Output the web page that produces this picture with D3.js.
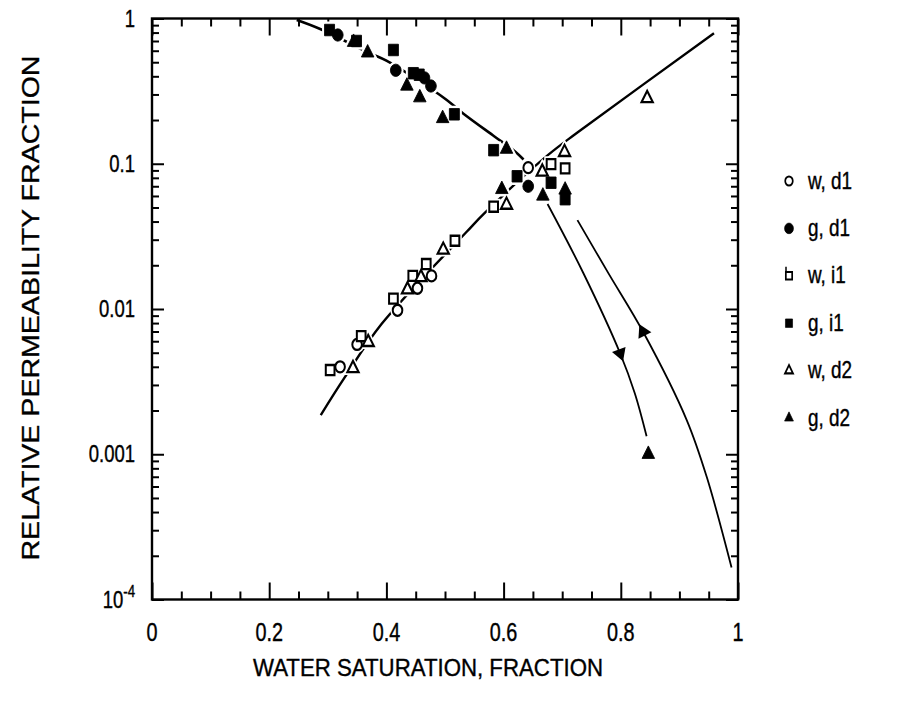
<!DOCTYPE html>
<html>
<head>
<meta charset="utf-8">
<script src="https://cdn.jsdelivr.net/npm/d3@7"></script>
<style>
  body { margin: 0; background: #fff; }
  text { font-family: "Liberation Sans", Arial, Helvetica, sans-serif; fill: #000; stroke: #000; stroke-width: 0.35px; }
</style>
</head>
<body>
<script>
// ---- data: [water saturation, relative permeability]
var wD1 = [[0.321,0.0040],[0.350,0.0057],[0.419,0.0098],[0.453,0.0139],[0.477,0.0169],[0.642,0.094]];
var gD1 = [[0.317,0.77],[0.416,0.44],[0.465,0.39],[0.476,0.343],[0.642,0.070]];
var wI1 = [[0.304,0.0038],[0.357,0.0065],[0.412,0.0118],[0.445,0.0169],[0.468,0.0204],[0.517,0.0295],[0.583,0.0506],[0.681,0.0995],[0.705,0.093]];
var gI1 = [[0.303,0.833],[0.349,0.70],[0.412,0.607],[0.446,0.42],[0.456,0.41],[0.516,0.219],[0.583,0.124],[0.623,0.082],[0.681,0.074],[0.705,0.057]];
var wD2 = [[0.343,0.0039],[0.369,0.0059],[0.436,0.0136],[0.459,0.0165],[0.497,0.0255],[0.605,0.052],[0.666,0.088],[0.704,0.12],[0.845,0.282]];
var gD2 = [[0.344,0.686],[0.368,0.58],[0.435,0.343],[0.457,0.285],[0.496,0.205],[0.597,0.0666],[0.605,0.126],[0.667,0.060],[0.705,0.066],[0.847,0.001]];

// fitted curves
var wCurve = [[0.288,0.00186],[0.328,0.00334],[0.392,0.0079],[0.537,0.034],[0.567,0.0455],[0.676,0.115],[0.726,0.164],[0.959,0.791]];
var gCurve = [[0.247,0.976],[0.284,0.856],[0.372,0.576],[0.400,0.512],[0.479,0.322],[0.503,0.275],[0.531,0.222],[0.585,0.1535],[0.620,0.121],[0.634,0.107]];
var gDrainLow = [[0.675,0.0528],[0.736,0.0177],[0.799,0.00494],[0.824,0.00262],[0.844,0.00133]];
var gImbLow = [[0.726,0.0409],[0.779,0.0176],[0.838,0.00697],[0.9125,0.00172],[0.9466,0.000699],[0.989,0.000166]];
// arrowheads on the two lower gas curves (point, direction along curve)
var arrows = [[0.799,0.00494,"down"],[0.838,0.00697,"up"]];

var xTicks = [0,0.2,0.4,0.6,0.8,1];
var xTickLabels = ["0","0.2","0.4","0.6","0.8","1"];
var yTicks = [1,0.1,0.01,0.001,0.0001];
var yTickLabels = ["1","0.1","0.01","0.001","10-4"];
var legendLabels = ["w, d1","g, d1","w, i1","g, i1","w, d2","g, d2"];

var svg = d3.select("body").append("svg")
  .attr("width", 912)
  .attr("height", 704);

var x = d3.scaleLinear().domain([0, 1]).range([152, 738]);
var y = d3.scaleLog().domain([1e-4, 1]).range([599.5, 18.5]);

var xMinor = d3.range(0, 1.001, 0.05).filter(function (v) { return Math.abs(v * 5 - Math.round(v * 5)) > 1e-6; });
var yMinor = y.ticks().filter(function (v) { return yTicks.indexOf(v) < 0; });

// ---- ticks on all four sides, pointing in
function ticks(axisFn, vals, len, tr) {
  var g = svg.append("g").attr("transform", tr)
    .call(axisFn.tickValues(vals).tickSize(-len).tickSizeOuter(0).tickFormat(""));
  g.select(".domain").remove();
  g.selectAll("line").attr("stroke", "#000").attr("stroke-width", 2);
}
ticks(d3.axisBottom(x), xTicks, 17, "translate(0,599.5)");
ticks(d3.axisBottom(x), xMinor, 8, "translate(0,599.5)");
ticks(d3.axisTop(x), xTicks, 17, "translate(0,18.5)");
ticks(d3.axisTop(x), xMinor, 8, "translate(0,18.5)");
ticks(d3.axisLeft(y), yTicks, 12, "translate(152,0)");
ticks(d3.axisLeft(y), yMinor, 7, "translate(152,0)");
ticks(d3.axisRight(y), yTicks, 12, "translate(738,0)");
ticks(d3.axisRight(y), yMinor, 7, "translate(738,0)");

svg.append("rect")
  .attr("x", 152).attr("y", 18.5)
  .attr("width", 738 - 152).attr("height", 599.5 - 18.5)
  .attr("fill", "none").attr("stroke", "#000").attr("stroke-width", 2.4);

// ---- tick labels
svg.selectAll(".xlab").data(xTicks).enter().append("text")
  .attr("transform", function (d) { return "translate(" + x(d) + ",641) scale(0.9,1.15)"; })
  .attr("text-anchor", "middle")
  .style("font-size", "22px")
  .text(function (d, i) { return xTickLabels[i]; });

svg.selectAll(".ylab").data(yTicks).enter().append("text")
  .attr("transform", function (d) { return "translate(135," + (y(d) + 8) + ") scale(0.88,1.15)"; })
  .attr("text-anchor", "end")
  .style("font-size", "21px")
  .each(function (d, i) {
    var t = d3.select(this);
    if (yTickLabels[i] == "10-4") {
      t.append("tspan").text("10");
      t.append("tspan").attr("dy", -9).style("font-size", "15px").text("-4");
    } else {
      t.text(yTickLabels[i]);
    }
  });

// ---- axis titles
svg.append("text")
  .attr("transform", "translate(428,676) scale(1,1.08)")
  .attr("text-anchor", "middle")
  .attr("textLength", 350).attr("lengthAdjust", "spacingAndGlyphs")
  .style("font-size", "23px")
  .text("WATER SATURATION, FRACTION");

svg.append("text")
  .attr("transform", "translate(39,308) rotate(-90)")
  .attr("text-anchor", "middle")
  .attr("textLength", 505).attr("lengthAdjust", "spacingAndGlyphs")
  .style("font-size", "24px")
  .text("RELATIVE PERMEABILITY FRACTION");

// ---- curves
var line = d3.line()
  .x(function (d) { return x(d[0]); })
  .y(function (d) { return y(d[1]); })
  .curve(d3.curveCatmullRom);

[[wCurve, 2.4], [gCurve, 2.6], [gDrainLow, 1.8], [gImbLow, 1.8]].forEach(function (c) {
  svg.append("path").datum(c[0])
    .attr("d", line)
    .attr("fill", "none")
    .attr("stroke", "#000")
    .attr("stroke-width", c[1]);
});

// arrowheads
arrows.forEach(function (a) {
  var curve = a[2] == "down" ? gDrainLow : gImbLow;
  var px = x(a[0]), py = y(a[1]);
  var step = 0.01;
  var k0 = d3.scaleLinear().domain(curve.map(function (d) { return d[0]; }))
    .range(curve.map(function (d) { return Math.log10(d[1]); }));
  var qx = x(a[0] + step), qy = y(Math.pow(10, k0(a[0] + step)));
  var ang = Math.atan2(qy - py, qx - px) * 180 / Math.PI + 90;
  if (a[2] == "up") ang += 180;
  svg.append("path")
    .attr("d", d3.symbol().type(d3.symbolTriangle).size(90)())
    .attr("transform", "translate(" + px + "," + py + ") rotate(" + ang + ")")
    .attr("fill", "#000");
});

// ---- markers
var series = [
  { data: wD1, type: d3.symbolCircle, size: 72, filled: false },
  { data: gD1, type: d3.symbolCircle, size: 90, filled: true },
  { data: wI1, type: d3.symbolSquare, size: 76, filled: false },
  { data: gI1, type: d3.symbolSquare, size: 100, filled: true },
  { data: wD2, type: d3.symbolTriangle, size: 55, filled: false },
  { data: gD2, type: d3.symbolTriangle, size: 68, filled: true }
];

// white halo first so lines break around the symbols
series.forEach(function (s) {
  svg.append("g").selectAll("path").data(s.data).enter().append("path")
    .attr("d", d3.symbol().type(s.type).size(s.size)())
    .attr("transform", function (d) { return "translate(" + x(d[0]) + "," + y(d[1]) + ") scale(1,1.15)"; })
    .attr("fill", "#fff").attr("stroke", "#fff").attr("stroke-width", 5);
});
series.forEach(function (s) {
  svg.append("g").selectAll("path").data(s.data).enter().append("path")
    .attr("d", d3.symbol().type(s.type).size(s.size)())
    .attr("transform", function (d) { return "translate(" + x(d[0]) + "," + y(d[1]) + ") scale(1,1.15)"; })
    .attr("fill", s.filled ? "#000" : "#fff")
    .attr("stroke", "#000")
    .attr("stroke-width", s.filled ? 0.8 : 2);
});

// ---- legend
var legendSizes = [45, 62, 40, 50, 28, 34];
series.forEach(function (s, i) {
  var ly = 181 + i * 47.4;
  svg.append("path")
    .attr("d", d3.symbol().type(s.type).size(legendSizes[i])())
    .attr("transform", "translate(789," + ly + ") scale(1,1.2)")
    .attr("fill", s.filled ? "#000" : "#fff")
    .attr("stroke", "#000")
    .attr("stroke-width", s.filled ? 0.6 : 1.7);
  if (i == 2) {
    svg.append("line").attr("x1", 786).attr("x2", 786).attr("y1", ly - 9).attr("y2", ly - 4)
      .attr("stroke", "#000").attr("stroke-width", 1.5);
  }
  svg.append("text")
    .attr("transform", "translate(808," + (ly + 7.5) + ") scale(0.9,1.15)")
    .style("font-size", "21px")
    .text(legendLabels[i]);
});
</script>
</body>
</html>
